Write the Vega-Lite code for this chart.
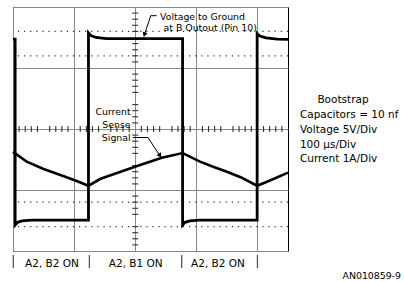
{
  "$schema": "https://vega.github.io/schema/vega-lite/v6.json",
  "width": 275,
  "height": 244,
  "autosize": "none",
  "padding": {"left": 13, "top": 7, "right": 116, "bottom": 31},
  "background": "white",
  "config": {
    "view": {"stroke": "#000", "strokeWidth": 1},
    "axis": {"grid": true, "gridColor": "#888", "gridWidth": 1, "labels": false, "ticks": false, "domain": false, "titleOpacity": 0}
  },
  "datasets": {
    "volt": [
      {"x": 0, "y": 2.95}, {"x": 0.07, "y": 2.95}, {"x": 0.07, "y": -3.15}, {"x": 0.15, "y": -3.06}, {"x": 0.3, "y": -3.01}, {"x": 0.6, "y": -2.99},
      {"x": 2.47, "y": -2.99}, {"x": 2.47, "y": 3.15}, {"x": 2.55, "y": 3.06}, {"x": 2.72, "y": 3.0}, {"x": 3.05, "y": 2.96},
      {"x": 5.55, "y": 2.96}, {"x": 5.55, "y": -3.15}, {"x": 5.63, "y": -3.06}, {"x": 5.79, "y": -3.01}, {"x": 6.1, "y": -2.99},
      {"x": 7.99, "y": -2.99}, {"x": 7.99, "y": 3.13}, {"x": 8.08, "y": 3.05}, {"x": 8.28, "y": 2.99}, {"x": 8.65, "y": 2.95}, {"x": 9, "y": 2.94}
    ],
    "curr": [
      {"x": 0, "y": -0.75}, {"x": 0.45, "y": -1.07}, {"x": 1.0, "y": -1.31}, {"x": 1.55, "y": -1.51}, {"x": 2.0, "y": -1.67}, {"x": 2.47, "y": -1.86},
      {"x": 2.85, "y": -1.64}, {"x": 3.17, "y": -1.525}, {"x": 3.99, "y": -1.236}, {"x": 4.87, "y": -0.94}, {"x": 5.55, "y": -0.79},
      {"x": 6.12, "y": -1.07}, {"x": 6.55, "y": -1.24}, {"x": 7.0, "y": -1.40}, {"x": 7.45, "y": -1.58}, {"x": 7.99, "y": -1.86},
      {"x": 8.41, "y": -1.69}, {"x": 9.0, "y": -1.43}
    ],
    "htick": [
      {"x": 0.2}, {"x": 0.4}, {"x": 0.6}, {"x": 0.8},
      {"x": 1.2}, {"x": 1.4}, {"x": 1.6}, {"x": 1.8},
      {"x": 2.2}, {"x": 2.4}, {"x": 2.6}, {"x": 2.8},
      {"x": 3.2}, {"x": 3.4}, {"x": 3.6}, {"x": 3.8},
      {"x": 4.2}, {"x": 4.4}, {"x": 4.6}, {"x": 4.8},
      {"x": 5.2}, {"x": 5.4}, {"x": 5.6}, {"x": 5.8},
      {"x": 6.2}, {"x": 6.4}, {"x": 6.6}, {"x": 6.8},
      {"x": 7.2}, {"x": 7.4}, {"x": 7.6}, {"x": 7.8},
      {"x": 8.2}, {"x": 8.4}, {"x": 8.6}, {"x": 8.8}
    ],
    "vtick": [
      {"y": -3.8}, {"y": -3.6}, {"y": -3.4}, {"y": -3.2},
      {"y": -2.8}, {"y": -2.6}, {"y": -2.4}, {"y": -2.2},
      {"y": -1.8}, {"y": -1.6}, {"y": -1.4}, {"y": -1.2},
      {"y": -0.8}, {"y": -0.6}, {"y": -0.4}, {"y": -0.2},
      {"y": 0.2}, {"y": 0.4}, {"y": 0.6}, {"y": 0.8},
      {"y": 1.2}, {"y": 1.4}, {"y": 1.6}, {"y": 1.8},
      {"y": 2.2}, {"y": 2.4}, {"y": 2.6}, {"y": 2.8},
      {"y": 3.2}, {"y": 3.4}, {"y": 3.6}, {"y": 3.8}
    ]
  },
  "layer": [
    {
      "data": {"values": [{"y": 3.2}, {"y": 2.4}, {"y": -2.4}, {"y": -3.2}]},
      "mark": {"type": "rule", "color": "#333", "strokeWidth": 1.3, "strokeDash": [1.2, 4.911]},
      "encoding": {
        "y": {"field": "y", "type": "quantitative", "title": null, "scale": {"domain": [-4, 4], "nice": false}, "axis": {"title": null, "values": [-4, -3, -2, -1, 0, 1, 2, 3, 4]}}
      }
    },
    {
      "data": {"name": "htick"},
      "mark": {"type": "tick", "orient": "vertical", "size": 6, "thickness": 1.1, "color": "#333", "opacity": 1},
      "encoding": {
        "x": {"field": "x", "type": "quantitative", "title": null, "scale": {"domain": [0, 9], "nice": false}, "axis": {"title": null, "values": [0, 1, 2, 3, 4, 5, 6, 7, 8, 9]}}
      }
    },
    {
      "data": {"name": "vtick"},
      "mark": {"type": "tick", "orient": "horizontal", "size": 6, "thickness": 1.1, "color": "#333", "opacity": 1, "xOffset": -15.28},
      "encoding": {
        "y": {"field": "y", "type": "quantitative", "title": null, "scale": {"domain": [-4, 4], "nice": false}}
      }
    },
    {
      "data": {"name": "volt"},
      "mark": {"type": "line", "color": "#000", "strokeWidth": 2.8, "strokeJoin": "miter", "clip": false},
      "encoding": {
        "x": {"field": "x", "type": "quantitative", "title": null, "scale": {"domain": [0, 9], "nice": false}},
        "y": {"field": "y", "type": "quantitative", "title": null, "scale": {"domain": [-4, 4], "nice": false}},
        "order": {"value": null}
      }
    },
    {
      "data": {"name": "curr"},
      "mark": {"type": "line", "color": "#000", "strokeWidth": 2.6, "strokeJoin": "miter"},
      "encoding": {
        "x": {"field": "x", "type": "quantitative", "title": null, "scale": {"domain": [0, 9], "nice": false}},
        "y": {"field": "y", "type": "quantitative", "title": null, "scale": {"domain": [-4, 4], "nice": false}},
        "order": {"value": null}
      }
    },
    {
      "data": {"values": [
        {"g": "a", "x": 4.703, "y": 3.715}, {"g": "a", "x": 4.507, "y": 3.715}, {"g": "a", "x": 4.315, "y": 3.13},
        {"g": "b", "x": 3.927, "y": -0.279}, {"g": "b", "x": 4.418, "y": -0.279}, {"g": "b", "x": 4.77, "y": -0.82}
      ]},
      "mark": {"type": "line", "color": "#000", "strokeWidth": 1},
      "encoding": {
        "x": {"field": "x", "type": "quantitative", "title": null, "scale": {"domain": [0, 9], "nice": false}},
        "y": {"field": "y", "type": "quantitative", "title": null, "scale": {"domain": [-4, 4], "nice": false}},
        "detail": {"field": "g"},
        "order": {"value": null}
      }
    },
    {
      "data": {"values": [{"x": 4.302, "y": 3.09}]},
      "mark": {"type": "point", "shape": "triangle-down", "filled": true, "size": 28, "angle": 17, "color": "#000", "opacity": 1},
      "encoding": {
        "x": {"field": "x", "type": "quantitative", "title": null, "scale": {"domain": [0, 9], "nice": false}},
        "y": {"field": "y", "type": "quantitative", "title": null, "scale": {"domain": [-4, 4], "nice": false}}
      }
    },
    {
      "data": {"values": [{"x": 4.81, "y": -0.875}]},
      "mark": {"type": "point", "shape": "triangle-down", "filled": true, "size": 28, "angle": -33, "color": "#000", "opacity": 1},
      "encoding": {
        "x": {"field": "x", "type": "quantitative", "title": null, "scale": {"domain": [0, 9], "nice": false}},
        "y": {"field": "y", "type": "quantitative", "title": null, "scale": {"domain": [-4, 4], "nice": false}}
      }
    },
    {
      "data": {"values": [
        {"x": 0.01, "y": -4.13, "y2": -4.56}, {"x": 2.5, "y": -4.13, "y2": -4.56},
        {"x": 5.52, "y": -4.13, "y2": -4.56}, {"x": 8.0, "y": -4.13, "y2": -4.56}
      ]},
      "mark": {"type": "rule", "color": "#555", "strokeWidth": 1.3},
      "encoding": {
        "x": {"field": "x", "type": "quantitative", "title": null, "scale": {"domain": [0, 9], "nice": false}},
        "y": {"field": "y", "type": "quantitative", "title": null, "scale": {"domain": [-4, 4], "nice": false}},
        "y2": {"field": "y2"}
      }
    },
    {
      "data": {"values": [
        {"x": 4.81, "y": 3.59, "t": "Voltage to Ground"},
        {"x": 4.925, "y": 3.21, "t": "at B Outout (Pin 10)"}
      ]},
      "mark": {"type": "text", "align": "left", "baseline": "alphabetic", "font": "DejaVu Sans", "fontSize": 9.4, "color": "#000"},
      "encoding": {
        "x": {"field": "x", "type": "quantitative", "title": null, "scale": {"domain": [0, 9], "nice": false}},
        "y": {"field": "y", "type": "quantitative", "title": null, "scale": {"domain": [-4, 4], "nice": false}},
        "text": {"field": "t"}
      }
    },
    {
      "data": {"values": [
        {"x": 3.85, "y": 0.459, "t": "Current"},
        {"x": 3.85, "y": 0.033, "t": "Sense"},
        {"x": 3.85, "y": -0.393, "t": "Signal"},
        {"x": 12.7, "y": -4.93, "t": "AN010859-9"}
      ]},
      "mark": {"type": "text", "align": "right", "baseline": "alphabetic", "font": "DejaVu Sans", "fontSize": 9.4, "color": "#000"},
      "encoding": {
        "x": {"field": "x", "type": "quantitative", "title": null, "scale": {"domain": [0, 9], "nice": false}},
        "y": {"field": "y", "type": "quantitative", "title": null, "scale": {"domain": [-4, 4], "nice": false}},
        "text": {"field": "t"}
      }
    },
    {
      "data": {"values": [
        {"x": 1.276, "y": -4.51, "t": "A2, B2 ON"},
        {"x": 4.016, "y": -4.51, "t": "A2, B1 ON"},
        {"x": 6.709, "y": -4.51, "t": "A2, B2 ON"},
        {"x": 10.8, "y": 0.852, "t": "Bootstrap"}
      ]},
      "mark": {"type": "text", "align": "center", "baseline": "alphabetic", "font": "DejaVu Sans", "fontSize": 10.5, "color": "#000"},
      "encoding": {
        "x": {"field": "x", "type": "quantitative", "title": null, "scale": {"domain": [0, 9], "nice": false}},
        "y": {"field": "y", "type": "quantitative", "title": null, "scale": {"domain": [-4, 4], "nice": false}},
        "text": {"field": "t"}
      }
    },
    {
      "data": {"values": [
        {"x": 9.39, "y": 0.377, "t": "Capacitors = 10 nf"},
        {"x": 9.39, "y": -0.115, "t": "Voltage 5V/Div"},
        {"x": 9.39, "y": -0.607, "t": "100 μs/Div"},
        {"x": 9.39, "y": -1.098, "t": "Current 1A/Div"}
      ]},
      "mark": {"type": "text", "align": "left", "baseline": "alphabetic", "font": "DejaVu Sans", "fontSize": 10.5, "color": "#000"},
      "encoding": {
        "x": {"field": "x", "type": "quantitative", "title": null, "scale": {"domain": [0, 9], "nice": false}},
        "y": {"field": "y", "type": "quantitative", "title": null, "scale": {"domain": [-4, 4], "nice": false}},
        "text": {"field": "t"}
      }
    }
  ]
}
